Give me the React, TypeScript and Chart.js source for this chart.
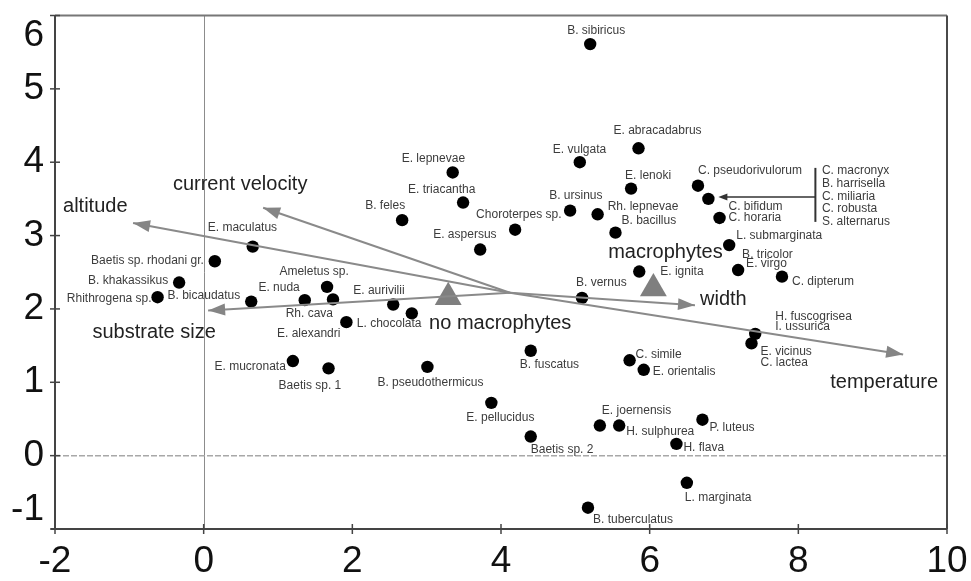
import React, { useEffect, useRef } from 'react';
import { Chart, registerables } from 'chart.js';

Chart.register(...registerables);

// ---------- DATA ----------
const speciesNames: string[][] = [
  ['B. sibiricus'], ['E. abracadabrus'], ['E. vulgata'], ['E. lepnevae'], ['E. lenoki'],
  ['E. triacantha'], ['B. ursinus'], ['Rh. lepnevae'], ['B. bacillus'], ['B. feles'],
  ['Choroterpes sp.'], ['E. aspersus'], ['E. ignita'], ['B. vernus'], ['C. pseudorivulorum'],
  [], ['C. bifidum', 'C. horaria'], ['L. submarginata'], ['B. tricolor', 'E. virgo'], ['C. dipterum'],
  ['E. maculatus'], ['Baetis sp. rhodani gr.'], ['B. khakassikus'], ['Rhithrogena sp.'], ['B. bicaudatus'],
  ['E. nuda'], ['Ameletus sp.'], ['Rh. cava'], ['E. alexandri'], ['L. chocolata'],
  ['E. aurivilii'], ['E. mucronata'], ['Baetis sp. 1'], ['B. pseudothermicus'], ['B. fuscatus'],
  ['E. pellucidus'], ['Baetis sp. 2'], ['B. tuberculatus'], ['C. simile'], ['E. orientalis'],
  ['E. joernensis'], ['H. sulphurea'], ['P. luteus'], ['H. flava'], ['L. marginata'],
  ['H. fuscogrisea', 'I. ussurica'], ['E. vicinus', 'C. lactea'],
];
const speciesX: number[] = [
  5.20, 5.85, 5.06, 3.35, 5.75,
  3.49, 4.93, 5.30, 5.54, 2.67,
  4.19, 3.72, 5.86, 5.09, 6.65,
  6.79, 6.94, 7.07, 7.19, 7.78,
  0.66, 0.15, -0.33, -0.62, 0.64,
  1.36, 1.66, 1.74, 1.92, 2.80,
  2.55, 1.20, 1.68, 3.01, 4.40,
  3.87, 4.40, 5.17, 5.73, 5.92,
  5.33, 5.59, 6.71, 6.36, 6.50,
  7.42, 7.37,
];
const speciesY: number[] = [
  5.61, 4.19, 4.00, 3.86, 3.64,
  3.45, 3.34, 3.29, 3.04, 3.21,
  3.08, 2.81, 2.51, 2.15, 3.68,
  3.50, 3.24, 2.87, 2.53, 2.44,
  2.85, 2.65, 2.36, 2.16, 2.10,
  2.12, 2.30, 2.13, 1.82, 1.94,
  2.06, 1.29, 1.19, 1.21, 1.43,
  0.72, 0.26, -0.71, 1.30, 1.17,
  0.41, 0.41, 0.49, 0.16, -0.37,
  1.66, 1.53,
];
// species sharing one point (index 15), listed beside a bracket
const groupIndex = 15;
const groupNames: string[] = ['C. macronyx', 'B. harrisella', 'C. miliaria', 'C. robusta', 'S. alternarus'];

const envNames: string[] = ['altitude', 'current velocity', 'substrate size', 'width', 'temperature'];
const envOriginX = 4.12;
const envOriginY = 2.22;
const envX: number[] = [-0.95, 0.80, 0.06, 6.61, 9.41];
const envY: number[] = [3.17, 3.38, 1.98, 2.05, 1.38];

const nominalNames: string[] = ['no macrophytes', 'macrophytes'];
const nominalX: number[] = [3.29, 6.05];
const nominalY: number[] = [2.16, 2.28];

const xTickMin = -2, xTickMax = 10, xStep = 2;
const yTickMin = -1, yTickMax = 6, yStep = 1;

// ---------- LABEL LAYOUT (pixel offsets from marks) ----------
type Lay = [string, number, number];
const speciesLayout: Lay[][] = [
  [['c', 6, -13]], [['l', -25, -18]], [['l', -27, -13]], [['l', -51, -14]], [['l', -6, -13]],
  [['l', -55, -13]], [['l', -21, -15]], [['l', 10, -8]], [['l', 6, -12]], [['l', -37, -14]],
  [['l', -39, -15]], [['l', -47, -15]], [['l', 21, 0]], [['l', -6, -15]], [['l', 0, -15]],
  [], [['l', 9, -11], ['l', 9, 0]], [['l', 7, -9]], [['l', 4, -15], ['l', 8, -6]], [['l', 10, 5]],
  [['l', -45, -19]], [['r', -11, -1]], [['r', -11, -2]], [['r', -6, 1]], [['r', -11, -6]],
  [['r', -5, -12]], [['c', -13, -15]], [['r', 0, 14]], [['r', -6, 12]], [['l', -55, 10]],
  [['l', -40, -14]], [['r', -7, 6]], [['l', -50, 17]], [['l', -50, 16]], [['l', -11, 14]],
  [['l', -25, 15]], [['l', 0, 13]], [['l', 5, 12]], [['l', 6, -6]], [['l', 9, 2]],
  [['l', 2, -15]], [['l', 7, 6]], [['l', 7, 8]], [['l', 7, 4]], [['l', -2, 15]],
  [['l', 20, -17], ['l', 20, -7]], [['l', 9, 8], ['l', 9, 19]],
];
const envLayout: Lay[] = [['l', -70, -17], ['c', -23, -23], ['c', -54, 22], ['l', 5, -6], ['c', -19, 28]];
const nominalLayout: Lay[] = [['c', 52, 26.5], ['c', 12, -36]];

const FONT = '"Liberation Sans", Arial, Helvetica, sans-serif';

function alignOf(a: string): CanvasTextAlign {
  return a === 'l' ? 'left' : a === 'r' ? 'right' : 'center';
}

const overlayPlugin = {
  id: 'overlay',
  beforeDatasetsDraw(chart: any) {
    const { ctx, chartArea: ca, scales } = chart;
    const x0 = scales.x.getPixelForValue(0);
    const y0 = scales.y.getPixelForValue(0);
    ctx.save();
    ctx.strokeStyle = '#8c8c8c';
    ctx.lineWidth = 1;
    ctx.beginPath();
    ctx.moveTo(Math.round(x0) + 0.5, ca.top);
    ctx.lineTo(Math.round(x0) + 0.5, ca.bottom);
    ctx.stroke();
    ctx.strokeStyle = '#a8a8a8';
    ctx.lineWidth = 1.5;
    ctx.setLineDash([6, 2]);
    ctx.beginPath();
    ctx.moveTo(ca.left, y0);
    ctx.lineTo(ca.right, y0);
    ctx.stroke();
    ctx.restore();
  },
  afterDatasetsDraw(chart: any) {
    const { ctx } = chart;
    ctx.save();
    // arrowheads
    for (let i = 0; i < envNames.length; i++) {
      const meta = chart.getDatasetMeta(i);
      const p0 = meta.data[0];
      const p1 = meta.data[1];
      const ang = Math.atan2(p1.y - p0.y, p1.x - p0.x);
      const L = 17, W = 6;
      ctx.fillStyle = '#858585';
      ctx.beginPath();
      ctx.moveTo(p1.x, p1.y);
      ctx.lineTo(p1.x - L * Math.cos(ang) + W * Math.sin(ang), p1.y - L * Math.sin(ang) - W * Math.cos(ang));
      ctx.lineTo(p1.x - L * Math.cos(ang) - W * Math.sin(ang), p1.y - L * Math.sin(ang) + W * Math.cos(ang));
      ctx.closePath();
      ctx.fill();
      const lay = envLayout[i];
      ctx.font = `20px ${FONT}`;
      ctx.fillStyle = '#222';
      ctx.textBaseline = 'middle';
      ctx.textAlign = alignOf(lay[0]);
      ctx.fillText(envNames[i], p1.x + lay[1], p1.y + lay[2]);
    }
    // species labels
    const sMeta = chart.getDatasetMeta(envNames.length);
    ctx.font = `12px ${FONT}`;
    ctx.fillStyle = '#3c3c3c';
    ctx.textBaseline = 'middle';
    speciesNames.forEach((names, i) => {
      const p = sMeta.data[i];
      names.forEach((n, j) => {
        const lay = speciesLayout[i][j];
        ctx.textAlign = alignOf(lay[0]);
        ctx.fillText(n, p.x + lay[1], p.y + lay[2]);
      });
    });
    // bracket group
    const g = sMeta.data[groupIndex];
    const barX = g.x + 107;
    ctx.strokeStyle = '#333';
    ctx.lineWidth = 2;
    ctx.beginPath();
    ctx.moveTo(barX, g.y - 31);
    ctx.lineTo(barX, g.y + 23);
    ctx.stroke();
    ctx.lineWidth = 1.5;
    ctx.beginPath();
    ctx.moveTo(barX, g.y - 2);
    ctx.lineTo(g.x + 16, g.y - 2);
    ctx.stroke();
    ctx.fillStyle = '#333';
    ctx.beginPath();
    ctx.moveTo(g.x + 10, g.y - 2);
    ctx.lineTo(g.x + 19, g.y - 5.5);
    ctx.lineTo(g.x + 19, g.y + 1.5);
    ctx.closePath();
    ctx.fill();
    ctx.fillStyle = '#3c3c3c';
    ctx.textAlign = 'left';
    groupNames.forEach((n, j) => {
      ctx.fillText(n, barX + 6.5, g.y - 28 + j * 12.7);
    });
    // nominal labels
    const nMeta = chart.getDatasetMeta(envNames.length + 1);
    ctx.font = `20px ${FONT}`;
    ctx.fillStyle = '#222';
    nominalNames.forEach((n, i) => {
      const p = nMeta.data[i];
      const lay = nominalLayout[i];
      ctx.textAlign = alignOf(lay[0]);
      ctx.fillText(n, p.x + lay[1], p.y + lay[2]);
    });
    ctx.restore();
  },
  afterDraw(chart: any) {
    const { ctx, chartArea: ca, scales } = chart;
    ctx.save();
    // frame
    ctx.lineWidth = 2;
    ctx.strokeStyle = '#777';
    ctx.beginPath();
    ctx.moveTo(ca.left, ca.top);
    ctx.lineTo(ca.right, ca.top);
    ctx.stroke();
    ctx.strokeStyle = '#4a4a4a';
    ctx.beginPath();
    ctx.moveTo(ca.right, ca.top);
    ctx.lineTo(ca.right, ca.bottom);
    ctx.stroke();
    ctx.strokeStyle = '#444';
    ctx.beginPath();
    ctx.moveTo(ca.left, ca.top);
    ctx.lineTo(ca.left, ca.bottom);
    ctx.moveTo(ca.left - 4, ca.bottom);
    ctx.lineTo(ca.right, ca.bottom);
    ctx.stroke();
    // ticks
    ctx.lineWidth = 1.5;
    ctx.font = `37px ${FONT}`;
    ctx.fillStyle = '#111';
    ctx.textBaseline = 'middle';
    ctx.textAlign = 'center';
    scales.x.ticks.forEach((t: any) => {
      const px = scales.x.getPixelForValue(t.value);
      ctx.beginPath();
      ctx.moveTo(px, ca.bottom - 5);
      ctx.lineTo(px, ca.bottom + 5);
      ctx.stroke();
      ctx.fillText(String(t.value), px, ca.bottom + 33);
    });
    ctx.textAlign = 'right';
    scales.y.ticks.forEach((t: any) => {
      let py = scales.y.getPixelForValue(t.value);
      ctx.beginPath();
      ctx.moveTo(ca.left - 5, py);
      ctx.lineTo(ca.left + 5, py);
      ctx.stroke();
      if (t.value === yTickMax) py = ca.top + 20;
      if (t.value === yTickMin) py = ca.bottom - 19;
      ctx.fillText(String(t.value), ca.left - 11, py);
    });
    ctx.restore();
  },
};

export default function App() {
  const ref = useRef<HTMLCanvasElement | null>(null);
  useEffect(() => {
    if (!ref.current) return;
    const arrowSets = envNames.map((n, i) => ({
      label: n,
      data: [{ x: envOriginX, y: envOriginY }, { x: envX[i], y: envY[i] }],
      showLine: true,
      borderColor: '#8a8a8a',
      borderWidth: 2,
      pointRadius: 0,
      fill: false,
    }));
    const chart = new Chart(ref.current, {
      type: 'scatter',
      data: {
        datasets: [
          ...arrowSets,
          {
            label: 'species',
            data: speciesX.map((x, i) => ({ x, y: speciesY[i] })),
            pointRadius: 6.2,
            pointBackgroundColor: '#000',
            pointBorderWidth: 0,
            borderWidth: 0,
          },
          {
            label: 'nominal',
            data: nominalX.map((x, i) => ({ x, y: nominalY[i] })),
            pointStyle: 'triangle',
            pointRadius: 15.5,
            pointBackgroundColor: '#7f7f7f',
            pointBorderWidth: 0,
            borderWidth: 0,
          },
        ] as any,
      },
      options: {
        animation: false,
        responsive: false,
        maintainAspectRatio: false,
        devicePixelRatio: 1,
        layout: { padding: { top: 7, right: 24, left: 0, bottom: 0 } },
        plugins: { legend: { display: false }, tooltip: { enabled: false } },
        scales: {
          x: {
            type: 'linear',
            min: xTickMin,
            max: xTickMax,
            ticks: { display: false, stepSize: xStep },
            grid: { display: false },
            border: { display: false },
            afterFit: (s: any) => { s.height = 52; },
          },
          y: {
            type: 'linear',
            min: yTickMin,
            max: yTickMax,
            ticks: { display: false, stepSize: yStep },
            grid: { display: false },
            border: { display: false },
            afterFit: (s: any) => { s.width = 55; },
          },
        },
      } as any,
      plugins: [overlayPlugin],
    });
    return () => chart.destroy();
  }, []);
  return (
    <div style={{ position: 'absolute', left: 0, top: 0, width: 971, height: 581, background: '#fff' }}>
      <canvas ref={ref} width={971} height={581} style={{ display: 'block' }} />
    </div>
  );
}
